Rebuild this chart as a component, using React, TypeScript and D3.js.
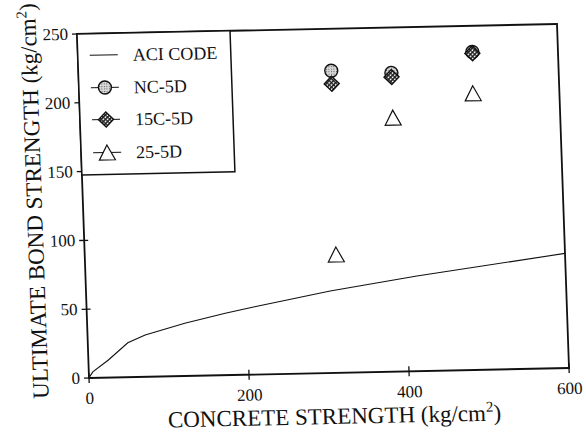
import React from "react";
import * as d3 from "d3";

// ACI code curve
const aciX = [1, 5, 25, 50, 72, 122, 173, 210, 305, 414, 600];
const aciY = [1, 4.4, 12.8, 25, 30.4, 38.3, 44.9, 49.3, 59.5, 69.1, 83.3];

// Test results
const ncX = [316, 391, 493];
const ncY = [219.5, 217, 231];
const c15X = [316, 391, 493];
const c15Y = [210, 214, 230];
const c25X = [314, 391, 492];
const c25Y = [86, 184.5, 201];

const xTicks = [0, 200, 400, 600];
const yTicks = [0, 50, 100, 150, 200, 250];
const legendLabels = ["ACI CODE", "NC-5D", "15C-5D", "25-5D"];

const W = 480;
const H = 344;
const FONT = "Liberation Serif, Times New Roman, DejaVu Serif, serif";
const ts = { fontFamily: FONT };

export default function App() {
  const x = d3.scaleLinear().domain([0, 600]).range([0, W]);
  const y = d3.scaleLinear().domain([0, 250]).range([H, 0]);
  const line = d3
    .line<number>()
    .x((_, i) => x(aciX[i]))
    .y((d) => y(d));
  const aciPath = line(aciY) || "";

  const circle = (cx: number, cy: number, key: string) => (
    <circle key={key} cx={cx} cy={cy} r={6.5} fill="url(#dots)" stroke="#111" strokeWidth={1.4} />
  );
  const diamond = (cx: number, cy: number, key: string) => (
    <path
      key={key}
      d={`M${cx},${cy - 7.5}L${cx + 7.5},${cy}L${cx},${cy + 7.5}L${cx - 7.5},${cy}Z`}
      fill="url(#hatch)"
      stroke="#111"
      strokeWidth={1.4}
    />
  );
  const tri = (cx: number, cy: number, key: string) => (
    <path
      key={key}
      d={`M${cx},${cy - 7.5}L${cx + 8},${cy + 7.5}L${cx - 8},${cy + 7.5}Z`}
      fill="#fff"
      stroke="#111"
      strokeWidth={1.2}
    />
  );

  const legendY = [21.5, 54, 86, 119];

  return (
    <svg
      width={586}
      height={437}
      style={{ position: "absolute", left: 0, top: 0, background: "#fff", fontFamily: FONT }}
    >
      <defs>
        <pattern id="dots" width={2.5} height={2.5} patternUnits="userSpaceOnUse">
          <rect width={2.5} height={2.5} fill="#d8d8d8" />
          <rect x={0} y={0} width={1} height={1} fill="#555" />
        </pattern>
        <pattern id="hatch" width={3} height={3} patternUnits="userSpaceOnUse" patternTransform="rotate(45)">
          <rect width={3} height={3} fill="#fff" />
          <rect x={0} y={0} width={3} height={1.4} fill="#222" />
          <rect x={0} y={0} width={1.4} height={3} fill="#222" />
        </pattern>
      </defs>
      <rect width={586} height={437} fill="#fff" />
      <g transform="matrix(1,-0.02083,0.0349,1,77,34)">
        {/* frame */}
        <rect x={0} y={0} width={W} height={H} fill="none" stroke="#111" strokeWidth={1.8} />
        {/* x ticks */}
        {xTicks.map((t) => (
          <g key={"xt" + t}>
            <line x1={x(t)} x2={x(t)} y1={H - 5} y2={H + 5} stroke="#111" strokeWidth={1.3} />
            <text x={x(t)} y={H + 26} textAnchor="middle" fontSize={17} fill="#111" style={ts}>
              {t}
            </text>
          </g>
        ))}
        {/* y ticks */}
        {yTicks.map((t) => (
          <g key={"yt" + t}>
            <line x1={-5} x2={4} y1={y(t)} y2={y(t)} stroke="#111" strokeWidth={1.3} />
            <text x={-9} y={y(t)} dy="0.33em" textAnchor="end" fontSize={17} fill="#111" style={ts}>
              {t}
            </text>
          </g>
        ))}
        {/* ACI curve */}
        <path d={aciPath} fill="none" stroke="#111" strokeWidth={1.1} />
        {/* data */}
        {ncX.map((v, i) => circle(x(v), y(ncY[i]), "nc" + i))}
        {c15X.map((v, i) => diamond(x(v), y(c15Y[i]), "c15" + i))}
        {c25X.map((v, i) => tri(x(v), y(c25Y[i]), "c25" + i))}
        {/* legend */}
        <rect x={0} y={0} width={153} height={141} fill="#fff" stroke="#111" strokeWidth={1.5} />
        {legendLabels.map((lab, i) => (
          <g key={"lg" + i}>
            <line x1={12} x2={40} y1={legendY[i]} y2={legendY[i]} stroke="#111" strokeWidth={1} />
            {i === 1 && circle(26, legendY[i], "lc")}
            {i === 2 && diamond(26, legendY[i], "ld")}
            {i === 3 && tri(26, legendY[i], "lt")}
            <text x={55} y={legendY[i]} dy="0.35em" fontSize={18} fill="#111" style={ts}>
              {lab}
            </text>
          </g>
        ))}
        {/* axis titles */}
        <text x={W / 2 + 4} y={H + 51} textAnchor="middle" fontSize={23} fill="#111" style={ts}>
          CONCRETE STRENGTH (kg/cm
          <tspan fontSize={15} dy={-9}>2</tspan>
          <tspan dy={9}>)</tspan>
        </text>
        <text
          transform={`translate(-41,${H / 2 - 6}) rotate(-90)`}
          textAnchor="middle"
          fontSize={23}
          fill="#111"
          style={ts}
        >
          ULTIMATE BOND STRENGTH (kg/cm
          <tspan fontSize={15} dy={-9}>2</tspan>
          <tspan dy={9}>)</tspan>
        </text>
      </g>
    </svg>
  );
}
